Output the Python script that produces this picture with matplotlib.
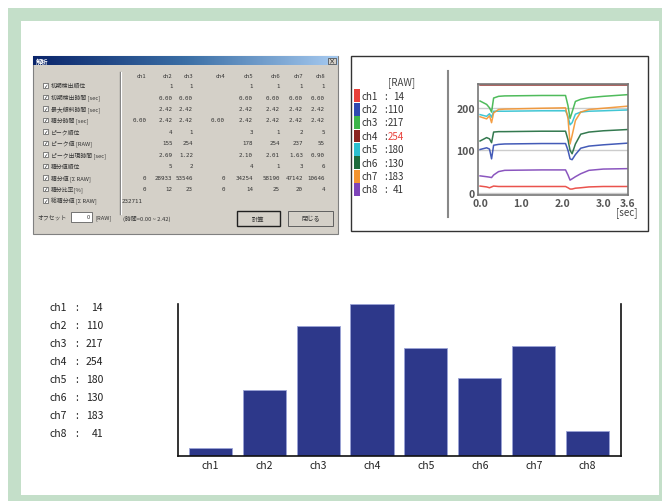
import numpy as np
import matplotlib
matplotlib.use("Agg")
import matplotlib.pyplot as plt
from matplotlib.patches import Rectangle
from matplotlib.colors import LinearSegmentedColormap

plt.rcParams['font.family'] = ['Noto Sans CJK JP', 'DejaVu Sans']

# ---------------- data ----------------
channels = ["ch1", "ch2", "ch3", "ch4", "ch5", "ch6", "ch7", "ch8"]
raw_values = [14, 110, 217, 254, 180, 130, 183, 41]
ch_colors = ["#e8403a", "#2f49b0", "#3cb44a", "#8a2420", "#2cc0d0", "#1e6b3c", "#f39430", "#7e44b8"]

# time traces
trace_t = [0.0, 0.16, 0.23, 0.28, 0.33, 0.45, 0.6, 1.5, 2.08, 2.14, 2.19, 2.24, 2.32, 2.45, 2.65, 3.0, 3.6]
trace_ch1 = [16, 14, 12, 14, 16, 15, 15, 15, 15, 12, 9, 9, 11, 12, 14, 15, 15]
trace_ch2 = [102, 106, 103, 80, 112, 114, 115, 116, 116, 100, 80, 78, 90, 105, 110, 113, 117]
trace_ch3 = [216, 208, 200, 190, 223, 227, 228, 229, 229, 205, 175, 190, 215, 220, 224, 227, 231]
trace_ch4 = [254, 254, 254, 254, 254, 254, 254, 254, 254, 254, 254, 254, 254, 254, 254, 254, 254]
trace_ch5 = [184, 180, 186, 178, 192, 192, 192, 193, 193, 180, 160, 165, 185, 190, 192, 193, 195]
trace_ch6 = [122, 130, 127, 118, 143, 144, 144, 145, 145, 125, 100, 92, 115, 138, 143, 146, 149]
trace_ch7 = [179, 174, 181, 165, 188, 196, 197, 199, 200, 175, 115, 135, 170, 190, 196, 199, 204]
trace_ch8 = [40, 38, 37, 36, 42, 50, 53, 54, 54, 42, 30, 33, 38, 45, 53, 56, 57]
traces = [trace_ch1, trace_ch2, trace_ch3, trace_ch4, trace_ch5, trace_ch6, trace_ch7, trace_ch8]
line_xticks = [0.0, 1.0, 2.0, 3.0, 3.6]
line_xticklabels = ["0.0", "1.0", "2.0", "3.0", "3.6"]
line_yticks = [0, 100, 200]

# dialog table
dialog_rows = ["初期検出順位", "初期検出時間 [sec]", "最大傾斜時間 [sec]", "積分時間 [sec]",
               "ピーク順位", "ピーク値 [RAW]", "ピーク出現時間 [sec]", "積分値順位",
               "積分値 [Σ RAW]", "積分比率[%]", "総積分値 [Σ RAW]"]
dialog_cells = [
    ["", "1", "1", "", "1", "1", "1", "1"],
    ["", "0.00", "0.00", "", "0.00", "0.00", "0.00", "0.00"],
    ["", "2.42", "2.42", "", "2.42", "2.42", "2.42", "2.42"],
    ["0.00", "2.42", "2.42", "0.00", "2.42", "2.42", "2.42", "2.42"],
    ["", "4", "1", "", "3", "1", "2", "5"],
    ["", "155", "254", "", "178", "254", "237", "55"],
    ["", "2.69", "1.22", "", "2.10", "2.01", "1.63", "0.90"],
    ["", "5", "2", "", "4", "1", "3", "6"],
    ["0", "28933", "53546", "0", "34254", "58190", "47142", "10646"],
    ["0", "12", "23", "0", "14", "25", "20", "4"],
]
dialog_total = "232711"

# ---------------- figure ----------------
W, H = 662, 502
fig = plt.figure(figsize=(W / 100, H / 100), dpi=100)
fig.patch.set_facecolor("white")

bg = fig.add_axes([0, 0, 1, 1])
bg.set_xlim(0, W)
bg.set_ylim(H, 0)
bg.axis("off")

def rect(ax, x0, y0, x1, y1, **kw):
    ax.add_patch(Rectangle((x0, y0), x1 - x0, y1 - y0, **kw))

def frac(x0, y0, x1, y1):
    return [x0 / W, 1 - y1 / H, (x1 - x0) / W, (y1 - y0) / H]

# green frame
rect(bg, 8, 9, W, H, facecolor="#c4dfc9", edgecolor="none")
rect(bg, 21, 22, 659, 496, facecolor="white", edgecolor="none")

# ---------------- dialog screenshot ----------------
dx0, dy0, dx1, dy1 = 33, 57, 338, 235
rect(bg, dx0, dy0, dx1, dy1, facecolor="#d4d0c8", edgecolor="#808080", lw=0.8)
grad = np.linspace(0, 1, 256).reshape(1, -1)
tcmap = LinearSegmentedColormap.from_list("t", ["#0a246a", "#3a6ea5", "#a6caf0"])
bg.imshow(grad, cmap=tcmap, extent=(dx0, dx1, 66, dy0), aspect="auto", zorder=2)
bg.set_xlim(0, W)
bg.set_ylim(H, 0)
bg.text(36, 61.5, "解析", color="white", fontsize=4.5, fontweight="bold", va="center", zorder=3)
rect(bg, 328, 58.5, 336, 64.5, facecolor="#d4d0c8", edgecolor="#404040", lw=0.5, zorder=3)
bg.text(332, 61.5, "×", fontsize=4.5, ha="center", va="center", zorder=4)

# separator
bg.plot([120, 120], [73, 215], color="#808080", lw=1.0)
bg.plot([121, 121], [73, 215], color="white", lw=0.8)

col_right = [146.5, 172.5, 193, 225, 253, 280, 303, 325]
for j, c in enumerate(channels):
    bg.text(col_right[j], 77, c, fontsize=4.2, ha="right", va="center", color="#333333")

row_y0, row_dy = 86.5, 11.5
for i, lab in enumerate(dialog_rows):
    y = row_y0 + i * row_dy
    rect(bg, 43, y - 2.2, 47.5, y + 2.2, facecolor="white", edgecolor="#555555", lw=0.5)
    bg.text(45.3, y, "✓", fontsize=4, ha="center", va="center", color="#222222",
            family="DejaVu Sans")
    bg.text(51, y, lab, fontsize=4.2, ha="left", va="center", color="#333333")
    if i < len(dialog_cells):
        for j, v in enumerate(dialog_cells[i]):
            if v:
                bg.text(col_right[j], y, v, fontsize=4.2, ha="right", va="center",
                        color="#333333", family="DejaVu Sans Mono")
    else:
        bg.text(122, y, dialog_total, fontsize=4.2, ha="left", va="center",
                color="#333333", family="DejaVu Sans Mono")

by = 218
bg.text(37, by, "オフセット", fontsize=4.2, va="center", color="#333333")
rect(bg, 71, by - 5, 92, by + 5, facecolor="white", edgecolor="#606060", lw=0.6)
bg.text(90, by, "0", fontsize=4.2, ha="right", va="center", color="#333333")
bg.text(95, by, "[RAW]", fontsize=4.2, va="center", color="#333333")
bg.text(123, by + 1, "(時間=0.00 ~ 2.42)", fontsize=4.2, va="center", color="#333333")
rect(bg, 237, 212, 280, 227, facecolor="#d4d0c8", edgecolor="#202020", lw=1.0)
bg.text(258.5, 219.5, "計算", fontsize=4.5, ha="center", va="center", color="#333333")
rect(bg, 288, 212, 333, 227, facecolor="#d4d0c8", edgecolor="#606060", lw=0.7)
bg.text(310.5, 219.5, "閉じる", fontsize=4.5, ha="center", va="center", color="#333333")

# ---------------- line chart panel ----------------
rect(bg, 351, 57, 648, 232, facecolor="white", edgecolor="#333333", lw=1.0)
bg.plot([448, 448], [72, 218], color="#888888", lw=1.5)
bg.text(402, 83, "[RAW]", fontsize=7, ha="center", va="center", color="#444444")
leg_y0, leg_dy = 96.7, 13.4
for i, c in enumerate(channels):
    y = leg_y0 + i * leg_dy
    rect(bg, 354, y - 6.4, 360, y + 6.4, facecolor=ch_colors[i], edgecolor="none")
    bg.text(361.5, y, c, fontsize=7, ha="left", va="center", color="#333333")
    bg.text(385.5, y, ":", fontsize=7, ha="center", va="center", color="#333333")
    bg.text(404, y, str(raw_values[i]), fontsize=7, ha="right", va="center",
            color="#e8403a" if i == 3 else "#333333")
bg.text(627, 213, "[sec]", fontsize=7, ha="center", va="center", color="#444444")

lax = fig.add_axes(frac(478, 85, 628, 196))
lax.set_facecolor("white")
for i in range(len(channels)):
    lax.plot(trace_t, traces[i], color=ch_colors[i], lw=1.1, alpha=0.9)
lax.set_xlim(-0.05, 3.6)
lax.set_ylim(-5, 256)
lax.set_xticks(line_xticks)
lax.set_xticklabels(line_xticklabels)
lax.set_yticks(line_yticks)
lax.tick_params(length=0, labelsize=7.5, labelcolor="#555555", pad=2)
for lbl in lax.get_xticklabels() + lax.get_yticklabels():
    lbl.set_fontweight("bold")
lax.grid(axis="y", color="#cccccc", lw=1.0)
lax.set_axisbelow(True)
for s in lax.spines.values():
    s.set_color("#777777")
    s.set_linewidth(1.2)

# ---------------- bar chart ----------------
lab_y0, lab_dy = 308, 18
for i, c in enumerate(channels):
    y = lab_y0 + i * lab_dy
    bg.text(50, y, c, fontsize=7.5, ha="left", va="center", color="#222222")
    bg.text(77, y, ":", fontsize=7.5, ha="center", va="center", color="#222222")
    bg.text(103, y, str(raw_values[i]), fontsize=7.5, ha="right", va="center", color="#222222")

bax = fig.add_axes(frac(178, 305, 621, 457))
bax.set_facecolor("none")
x = np.arange(len(channels))
bax.bar(x, raw_values, width=0.8, color="#2d388a", edgecolor="#9aa3d6", linewidth=0.6)
bax.set_xlim(-0.6, 7.62)
bax.set_ylim(0, 254)
bax.set_xticks(x)
bax.set_xticklabels(channels)
bax.set_yticks([])
bax.tick_params(axis="x", length=0, labelsize=7.5, labelcolor="#222222", pad=3)
bax.spines["top"].set_visible(False)
for s in ["left", "bottom", "right"]:
    bax.spines[s].set_color("#111111")
    bax.spines[s].set_linewidth(1.2)

fig.savefig("out.png", dpi=100)
